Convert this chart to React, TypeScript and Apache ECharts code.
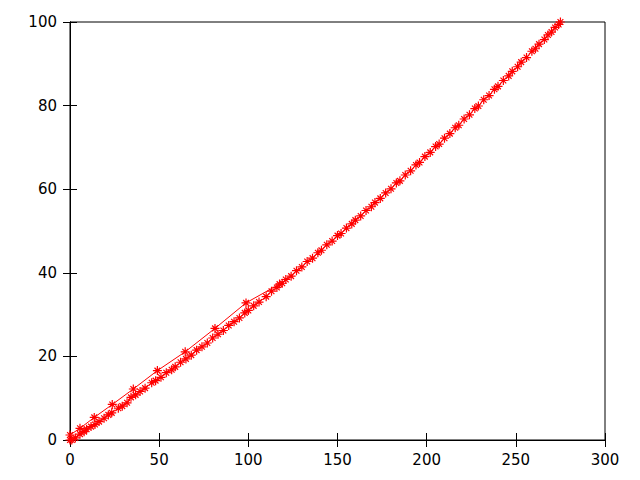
import React, { useEffect, useRef } from "react";
import * as echarts from "echarts";

const xTicks = { min: 0, max: 300, interval: 50 };
const yTicks = { min: 0, max: 100, interval: 20 };

const upperX = [0, 5.6, 13.6, 23.7, 35.5, 49, 64.6, 81.3, 98.7, 117.5];
const upperY = [1.2, 2.8, 5.4, 8.5, 12.2, 16.6, 21.1, 26.7, 32.8, 37.3];

const lowerX = [0, 1, 3, 5.6, 7.9, 9.3, 11.8, 14, 16.3, 19.1, 21.5, 23.4, 27.1, 29.3, 32, 34.2, 36.8, 39.3, 42.1, 45.8, 48, 51, 54, 57, 59, 62, 65, 68, 71, 74, 77, 80, 83, 86, 89, 92, 95, 98, 100, 103, 106, 110, 113, 116, 119, 121, 124, 127, 130, 133, 136, 139, 141, 144, 147, 150, 152, 155, 158, 160, 163, 166, 169, 171, 174, 177, 180, 183, 185, 188, 191, 194, 196, 199, 202, 205, 207, 210, 213, 216, 218, 221, 224, 227, 229, 232, 235, 238, 240, 243, 246, 248, 251, 253, 256, 259, 261, 263, 266, 268, 270, 272, 274, 275];
const lowerY = [0, 0, 0.5, 1.4, 2.0, 2.6, 3.2, 3.7, 4.4, 5.2, 6.0, 6.5, 7.6, 8.1, 8.9, 10.2, 10.8, 11.6, 12.4, 13.7, 14.2, 15.0, 16.1, 16.8, 17.5, 18.6, 19.4, 20.3, 21.5, 22.3, 23.2, 24.4, 25.3, 26.2, 27.4, 28.3, 29.2, 30.4, 31.0, 32.1, 33.0, 34.3, 35.6, 36.5, 37.5, 38.4, 39.2, 40.5, 41.4, 42.7, 43.5, 44.8, 45.4, 46.7, 47.6, 48.9, 49.4, 50.7, 51.7, 52.6, 53.6, 54.9, 55.8, 56.8, 57.8, 59.1, 60.1, 61.5, 62.0, 63.4, 64.4, 65.8, 66.4, 67.8, 68.8, 70.2, 70.8, 72.2, 73.3, 74.7, 75.3, 76.8, 77.8, 79.3, 79.9, 81.4, 82.4, 83.9, 84.6, 86.0, 87.1, 88.2, 89.3, 90.4, 91.5, 93.0, 93.6, 94.7, 95.8, 96.9, 97.6, 98.7, 99.4, 100];

const starPath = "path://M0,-5L0,5M-5,0L5,0M-3.2,-3.2L3.2,3.2M-3.2,3.2L3.2,-3.2";

export default function App() {
  const ref = useRef<HTMLDivElement>(null);
  useEffect(() => {
    if (!ref.current) return;
    const chart = echarts.init(ref.current, undefined, { renderer: "svg" });
    const font = { fontFamily: "DejaVu Sans", fontSize: 15, color: "#000" };
    const seriesStyle = (xs: number[], ys: number[]) => ({
      type: "line",
      data: xs.map((x, i) => [x, ys[i]]),
      symbol: starPath,
      symbolSize: 9,
      showAllSymbol: true,
      clip: true,
      lineStyle: { color: "#ff0000", width: 1 },
      itemStyle: { color: "none", borderColor: "#ff0000", borderWidth: 1.2 },
      emphasis: { disabled: true },
    });
    chart.setOption({
      animation: false,
      backgroundColor: "#ffffff",
      grid: { left: 70, right: 35, top: 22, bottom: 40, show: true, borderColor: "#000", borderWidth: 1 },
      xAxis: [
        {
          type: "value", position: "bottom", ...xTicks,
          axisLine: { show: true, lineStyle: { color: "#000" } },
          axisTick: { show: true, inside: true, length: 7, lineStyle: { color: "#000" } },
          axisLabel: { ...font, margin: 12 },
          splitLine: { show: false },
        },
        {
          type: "value", position: "top", ...xTicks,
          axisLine: { show: true, lineStyle: { color: "#000" } },
          axisTick: { show: true, inside: true, length: 7, lineStyle: { color: "#000" } },
          axisLabel: { show: false },
          splitLine: { show: false },
        },
      ],
      yAxis: [
        {
          type: "value", position: "left", ...yTicks,
          axisLine: { show: true, lineStyle: { color: "#000" } },
          axisTick: { show: true, inside: true, length: 7, lineStyle: { color: "#000" } },
          axisLabel: { ...font, margin: 13 },
          splitLine: { show: false },
        },
        {
          type: "value", position: "right", ...yTicks,
          axisLine: { show: true, lineStyle: { color: "#000" } },
          axisTick: { show: true, inside: true, length: 7, lineStyle: { color: "#000" } },
          axisLabel: { show: false },
          splitLine: { show: false },
        },
      ],
      series: [seriesStyle(upperX, upperY), seriesStyle(lowerX, lowerY)],
    });
    return () => chart.dispose();
  }, []);
  return <div ref={ref} style={{ position: "absolute", left: 0, top: 0, width: 640, height: 480 }} />;
}
